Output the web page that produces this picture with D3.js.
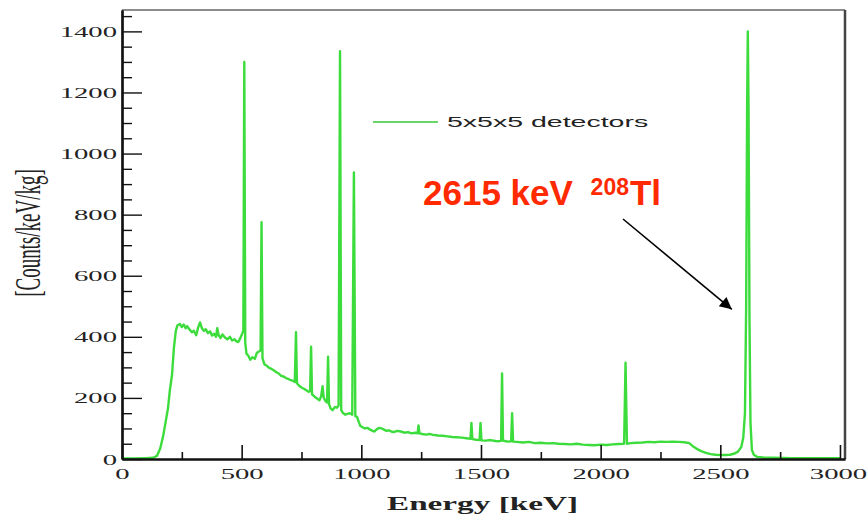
<!DOCTYPE html>
<html>
<head>
<meta charset="utf-8">
<script src="https://cdn.jsdelivr.net/npm/d3@7"></script>
<style>
  body { margin: 0; background: #fff; }
  svg { display: block; }
</style>
</head>
<body>
<div class="chart"></div>
<script>
// ____________________________ spectrum data ____________________________

const energy = [
    0, 50, 100, 130, 146, 160, 172, 182, 192, 200,
    209, 217, 225, 232, 242, 250, 258, 266, 272, 282,
    292, 300, 310, 318, 326, 334, 342, 350, 359, 368,
    376, 385, 393, 398, 404, 412, 420, 430, 440, 451,
    460, 470, 478, 486, 494, 502, 507, 511, 515, 520,
    528, 536, 545, 555, 564, 572, 579, 583, 587, 595,
    605, 615, 625, 635, 645, 655, 665, 675, 685, 695,
    705, 715, 722, 727, 731, 740, 750, 760, 770, 780,
    786, 790, 794, 805, 815, 825, 832, 838, 843, 850,
    857, 861, 865, 872, 880, 890, 898, 905, 911, 916,
    922, 932, 942, 952, 962, 969, 975, 982, 990, 996,
    1005, 1015, 1025, 1035, 1045, 1055, 1065, 1075, 1085, 1095,
    1105, 1115, 1125, 1135, 1150, 1165, 1180, 1195, 1210, 1225,
    1235, 1239, 1243, 1255, 1270, 1285, 1300, 1320, 1340, 1360,
    1380, 1400, 1420, 1440, 1456, 1460, 1464, 1480, 1494, 1498,
    1502, 1520, 1540, 1560, 1575, 1584, 1588, 1592, 1605, 1615,
    1626, 1630, 1634, 1650, 1675, 1700, 1725, 1750, 1775, 1800,
    1825, 1850, 1875, 1900, 1925, 1950, 1975, 2000, 2025, 2050,
    2075, 2098, 2104, 2110, 2125, 2150, 2175, 2200, 2225, 2250,
    2275, 2300, 2325, 2350, 2370, 2385, 2400, 2420, 2440, 2460,
    2480, 2500, 2520, 2540, 2560, 2575, 2588, 2596, 2603, 2608,
    2612, 2615, 2618, 2622, 2626, 2632, 2640, 2653, 2680, 2720,
    2800, 2900, 3000
];

const counts = [
    2, 2, 3, 4, 10, 35, 75, 120, 165, 225,
    275, 365, 420, 438, 442, 432, 440, 428, 435, 424,
    415, 420, 405, 430, 447, 428, 420, 425, 412, 418,
    404, 410, 400, 428, 405, 396, 408, 398, 392, 400,
    388, 392, 385, 383, 395, 410, 420, 1300, 380, 345,
    338, 325, 333, 328, 348, 352, 355, 775, 330, 310,
    305, 298, 295, 290, 284, 280, 272, 270, 265, 262,
    258, 256, 252, 415, 248, 240, 234, 230, 225, 220,
    222, 368, 212, 204, 198, 192, 205, 238, 200, 190,
    185, 335, 180, 165, 160, 170, 168, 175, 1335, 160,
    152, 145, 148, 150, 145, 938, 140, 138, 120, 108,
    104, 100, 102, 97, 93, 90, 98, 102, 100, 96,
    92, 94, 90, 88, 92, 90, 86, 88, 84, 86,
    84, 110, 84, 82, 80, 82, 79, 77, 76, 74,
    72, 71, 70, 68, 66, 118, 65, 63, 62, 118,
    61, 60, 62, 59, 58, 60, 280, 60, 58, 57,
    58, 150, 57, 56, 54, 56, 52, 53, 51, 52,
    50, 49, 48, 50, 47, 46, 45, 47, 46, 48,
    49, 50, 315, 50, 52, 53, 54, 56, 55, 57,
    56, 57, 56, 55, 52, 42, 34, 26, 20, 16,
    14, 13, 13, 14, 18, 25, 40, 70, 150, 500,
    1150, 1400, 1150, 450, 120, 30, 14, 7, 5, 4,
    3, 3, 3
];

const xMajorTicks = [0, 500, 1000, 1500, 2000, 2500, 3000];
const xMinorTicks = [250, 750, 1250, 1750, 2250, 2750];
const yMajorTicks = [0, 200, 400, 600, 800, 1000, 1200, 1400];
const yMinorTicks = [50, 100, 150, 250, 300, 350, 450, 500, 550, 650, 700, 750,
                     850, 900, 950, 1050, 1100, 1150, 1250, 1300, 1350, 1450];

const legendLabel = "5x5x5 detectors";
const xTitle = "Energy [keV]";
const yTitle = "[Counts/keV/kg]";

// ____________________________ drawing ____________________________

var width = 867;
var height = 514;
const margin = {top: 10, right: 22, bottom: 55, left: 122};
const green = "#3cdc3c";

const svg = d3.select(".chart")
    .append("svg")
    .attr("width", width)
    .attr("height", height);

const xScale = d3.scaleLinear()
    .domain([0, 3021])
    .range([margin.left, width - margin.right]);

const yScale = d3.scaleLinear()
    .domain([0, 1470])
    .range([height - margin.bottom, margin.top]);

const data = energy.map((e, i) => ({e: e, c: counts[i]}));

// frame: grey top and right sides
svg.append("line")
    .attr("x1", xScale(0)).attr("x2", xScale(3021))
    .attr("y1", yScale(1470)).attr("y2", yScale(1470))
    .attr("stroke", "#666").attr("stroke-width", 1.5);
svg.append("line")
    .attr("x1", xScale(3021)).attr("x2", xScale(3021))
    .attr("y1", yScale(1470)).attr("y2", yScale(0))
    .attr("stroke", "#444").attr("stroke-width", 2.5);

// spectrum
svg.append("path")
    .datum(data)
    .attr("fill", "none")
    .attr("stroke", green)
    .attr("stroke-width", 2.4)
    .attr("stroke-linejoin", "round")
    .attr("d", d3.line().x(d => xScale(d.e)).y(d => yScale(d.c)));

// axes (ticks point inward)
function xAxis(g, values, size, labels) {
    g.attr("transform", `translate(0,${yScale(0)})`)
     .call(d3.axisBottom(xScale).tickValues(values).tickSize(-size).tickSizeOuter(0)
        .tickFormat(labels ? d3.format("d") : ""));
    g.selectAll("line").attr("stroke", "#111").attr("stroke-width", 1.6);
    g.select(".domain").attr("stroke", "#111").attr("stroke-width", 2.2);
}

function yAxis(g, values, size, labels) {
    g.attr("transform", `translate(${xScale(0)},0)`)
     .call(d3.axisLeft(yScale).tickValues(values).tickSize(-size).tickSizeOuter(0)
        .tickFormat(labels ? d3.format("d") : ""));
    g.selectAll("line").attr("stroke", "#111").attr("stroke-width", 1.4);
    g.select(".domain").attr("stroke", "#111").attr("stroke-width", 2.2);
}

svg.append("g").call(xAxis, xMinorTicks, 7, false);
svg.append("g").call(yAxis, yMinorTicks, 10, false);

const gx = svg.append("g").call(xAxis, xMajorTicks, 14, true);
const gy = svg.append("g").call(yAxis, yMajorTicks, 20, true);

// the old plot was stretched sideways, so the labels are too
gx.selectAll("text")
    .attr("y", null).attr("dy", null)
    .attr("transform", d => `translate(${d === 3000 ? -2 : 0},20) scale(2.05,1)`)
    .attr("fill", "#222")
    .attr("font-family", "Liberation Serif, serif")
    .attr("font-size", "14px");

gy.selectAll("text")
    .attr("x", null).attr("dy", "0.36em")
    .attr("text-anchor", "end")
    .attr("transform", "translate(-5,0) scale(2.05,1)")
    .attr("fill", "#222")
    .attr("font-family", "Liberation Serif, serif")
    .attr("font-size", "14px");

// axis titles
svg.append("text")
    .attr("transform", `translate(${(xScale(0) + xScale(3021)) / 2 - 1},510) scale(1.75,1)`)
    .attr("text-anchor", "middle")
    .attr("font-family", "Liberation Serif, serif")
    .attr("font-weight", "bold")
    .attr("font-size", "19px")
    .attr("fill", "#222")
    .text(xTitle);

svg.append("text")
    .attr("transform", "translate(40,233) scale(1.9,1) rotate(-90)")
    .attr("text-anchor", "middle")
    .attr("font-family", "Liberation Serif, serif")
    .attr("font-size", "19px")
    .attr("fill", "#222")
    .text(yTitle);

// legend
svg.append("line")
    .attr("x1", 373).attr("x2", 438)
    .attr("y1", 122).attr("y2", 122)
    .attr("stroke", "#6ad66a").attr("stroke-width", 2);

svg.append("text")
    .attr("transform", "translate(447,127) scale(1.84,1)")
    .attr("font-family", "Liberation Sans, Arial, sans-serif")
    .attr("font-size", "15.5px")
    .attr("fill", "#222")
    .text(legendLabel);

// annotation for the 208Tl line
const note = svg.append("text")
    .attr("x", 423)
    .attr("y", 205)
    .attr("font-family", "Liberation Sans, Arial, sans-serif")
    .attr("font-weight", "bold")
    .attr("font-size", "35px")
    .attr("fill", "#ff2a00");
note.append("tspan").text("2615 keV ");
note.append("tspan").attr("dx", 8).attr("dy", -10).attr("font-size", "23px").text("208");
note.append("tspan").attr("dy", 10).attr("dx", 1).text("Tl");

svg.append("defs").append("marker")
    .attr("id", "head")
    .attr("viewBox", "0 0 10 10")
    .attr("refX", 10).attr("refY", 5)
    .attr("markerWidth", 14).attr("markerHeight", 12)
    .attr("markerUnits", "userSpaceOnUse")
    .attr("orient", "auto")
  .append("path")
    .attr("d", "M0,0 L10,5 L0,10 z")
    .attr("fill", "#000");

// arrow end sits just left of the 2615 peak
svg.append("line")
    .attr("x1", 623).attr("y1", 219)
    .attr("x2", xScale(2615) - 16).attr("y2", yScale(490))
    .attr("stroke", "#000")
    .attr("stroke-width", 1.6)
    .attr("marker-end", "url(#head)");
</script>
</body>
</html>
